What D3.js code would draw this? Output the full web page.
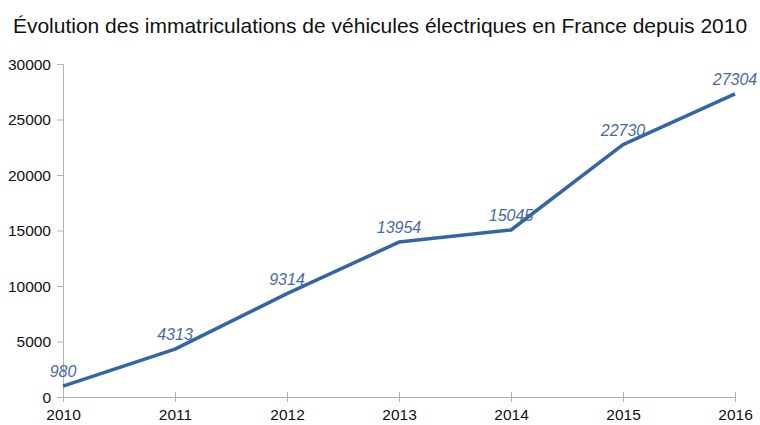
<!DOCTYPE html>
<html>
<head>
<meta charset="utf-8">
<script src="https://cdn.jsdelivr.net/npm/d3@7"></script>
<style>
body { margin: 0; background: #fff; }
text { font-family: "Liberation Sans", Arial, sans-serif; }
</style>
</head>
<body>
<svg></svg>
<script>
const width = 760;
const height = 425;

const years = [2010, 2011, 2012, 2013, 2014, 2015, 2016];
const registrations = [980, 4313, 9314, 13954, 15045, 22730, 27304];
const yTicks = [0, 5000, 10000, 15000, 20000, 25000, 30000];

const margin = { left: 63, right: 25, top: 64, bottom: 28 };

const svg = d3.select("svg").attr("width", width).attr("height", height);

const x = d3.scalePoint()
	.domain(years)
	.range([margin.left, width - margin.right]);

const y = d3.scaleLinear()
	.domain([0, 30000])
	.range([height - margin.bottom, margin.top]);

svg.append("text")
	.attr("x", 380)
	.attr("y", 33)
	.attr("text-anchor", "middle")
	.attr("font-size", 21)
	.attr("fill", "#111")
	.text("Évolution des immatriculations de véhicules électriques en France depuis 2010");

// y axis
const yAxis = svg.append("g")
	.attr("transform", `translate(${margin.left},0)`)
	.call(d3.axisLeft(y).tickValues(yTicks).tickSize(6).tickPadding(6).tickFormat(d3.format("d")));

// x axis
const xAxis = svg.append("g")
	.attr("transform", `translate(0,${height - margin.bottom})`)
	.call(d3.axisBottom(x).tickSize(5).tickPadding(7).tickSizeOuter(0));

xAxis.selectAll(".tick line").attr("y1", -5);

for (const g of [xAxis, yAxis]) {
	g.select(".domain").attr("stroke", "#b3b3b3");
	g.selectAll(".tick line").attr("stroke", "#b3b3b3");
	g.selectAll(".tick text")
		.attr("font-size", 15.5)
		.attr("fill", "#111")
		.style("font-family", "'Liberation Sans', Arial, sans-serif");
}
yAxis.selectAll(".tick text").attr("dy", "0.35em");

const line = d3.line()
	.x((d, i) => x(years[i]))
	.y((d) => y(d));

svg.append("path")
	.datum(registrations)
	.attr("fill", "none")
	.attr("stroke", "#3465a4")
	.attr("stroke-width", 3.5)
	.attr("stroke-linejoin", "round")
	.attr("d", line);

svg.append("g")
	.selectAll("text")
	.data(registrations)
	.enter()
	.append("text")
	.attr("x", (d, i) => x(years[i]))
	.attr("y", (d) => y(d) - 9)
	.attr("text-anchor", "middle")
	.attr("font-size", 16)
	.attr("font-style", "italic")
	.attr("fill", "#4a6a9e")
	.text((d) => d);
</script>
</body>
</html>
